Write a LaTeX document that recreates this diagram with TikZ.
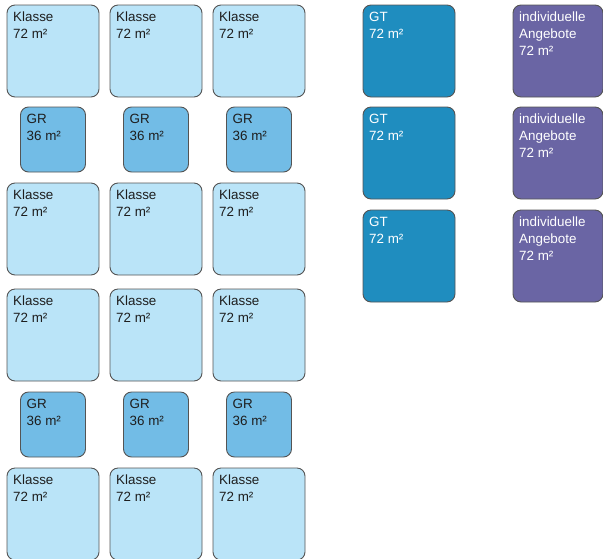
\documentclass[tikz,border=0pt]{standalone}
\usepackage{fontspec}
\setmainfont{Liberation Sans}
\usepackage{tikz}
\usetikzlibrary{positioning}
\definecolor{frame}{HTML}{545454}
\definecolor{klasse}{HTML}{BAE4F8}
\definecolor{gruppe}{HTML}{72BCE6}
\definecolor{ganztag}{HTML}{1F8DBF}
\definecolor{angebot}{HTML}{6A65A4}
\definecolor{schrift}{HTML}{1E1E1E}
\begin{document}
\begin{tikzpicture}[x=1pt,y=-1pt,
 room/.style={draw=frame,line width=0.9pt,rounded corners=8pt,inner sep=0pt,outer sep=0pt,
              minimum width=92pt,minimum height=92pt,
              label={[anchor=north west,inner sep=0pt,align=left,xshift=6pt,yshift=-6.5pt,
                      font=\fontsize{13.4}{17}\selectfont,text=#1]north west:\roomtext}},
 cls/.style={room=schrift,fill=klasse},
 grp/.style={room=schrift,fill=gruppe,minimum width=65pt,minimum height=65pt},
 gt/.style={room=white,fill=ganztag},
 ind/.style={room=white,fill=angebot,minimum width=90pt}]
\useasboundingbox (0,0) rectangle (603,558);
\def\roomtext{Klasse\\72 m²}
\node[cls,anchor=north west] (k11) at (7,5) {};
\node[cls,right=11pt of k11] (k12) {};
\node[cls,right=11pt of k12] (k13) {};
\def\roomtext{GR\\36 m²}
\node[grp,below=10pt of k11] (g11) {};
\node[grp,below=10pt of k12] (g12) {};
\node[grp,below=10pt of k13] (g13) {};
\def\roomtext{Klasse\\72 m²}
\node[cls,below=11pt of g11] (k21) {};
\node[cls,below=11pt of g12] (k22) {};
\node[cls,below=11pt of g13] (k23) {};
\node[cls,below=14pt of k21] (k31) {};
\node[cls,below=14pt of k22] (k32) {};
\node[cls,below=14pt of k23] (k33) {};
\def\roomtext{GR\\36 m²}
\node[grp,below=11pt of k31] (g21) {};
\node[grp,below=11pt of k32] (g22) {};
\node[grp,below=11pt of k33] (g23) {};
\def\roomtext{Klasse\\72 m²}
\node[cls,below=11pt of g21] (k41) {};
\node[cls,below=11pt of g22] (k42) {};
\node[cls,below=11pt of g23] (k43) {};
% Ganztag und Angebote
\def\roomtext{GT\\72 m²}
\node[gt,anchor=north west] (gt1) at (363,5) {};
\node[gt,below=10pt of gt1] (gt2) {};
\node[gt,below=11pt of gt2] (gt3) {};
\def\roomtext{individuelle\\Angebote\\72 m²}
\node[ind,anchor=north west] (ia1) at (513,5) {};
\node[ind,below=10pt of ia1] (ia2) {};
\node[ind,below=11pt of ia2] (ia3) {};
\end{tikzpicture}
\end{document}
